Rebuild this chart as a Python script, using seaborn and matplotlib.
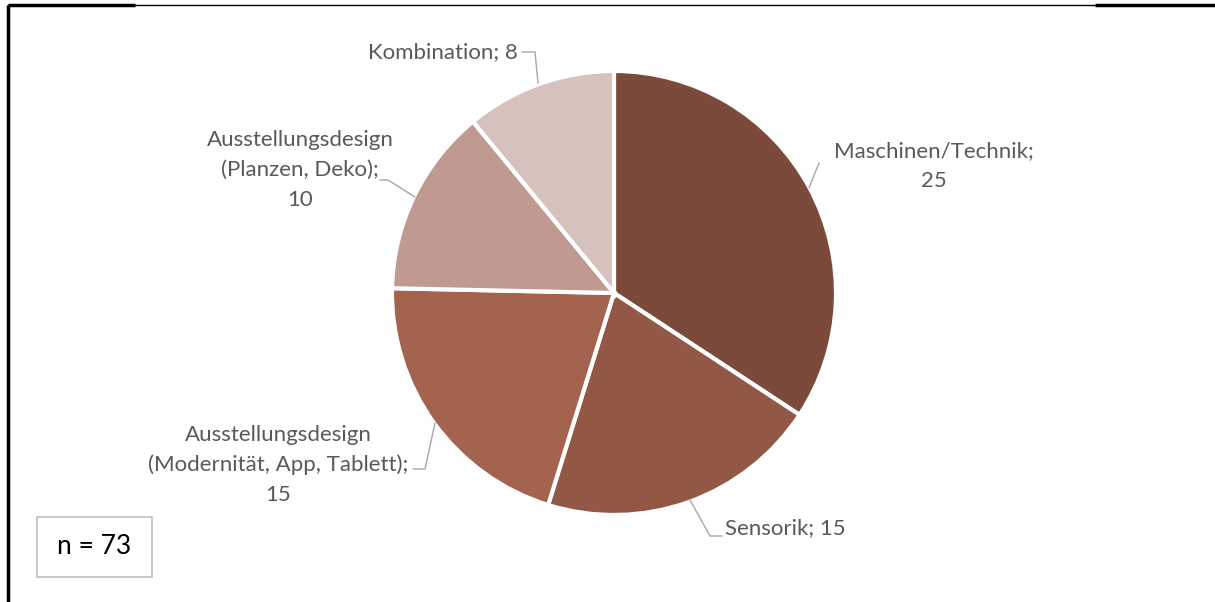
import matplotlib
matplotlib.use('Agg')
import matplotlib.pyplot as plt
import seaborn as sns
from matplotlib.patches import Rectangle

# ---- Daten
kategorien = ['Maschinen/Technik', 'Sensorik',
              'Ausstellungsdesign\n(Modernität, App, Tablett)',
              'Ausstellungsdesign\n(Planzen, Deko)', 'Kombination']
werte = [25, 15, 15, 10, 8]
farben = ['#7B4A3A', '#935845', '#A3634E', '#C09A91', '#D7C1BC']
n_text = 'n = 73'

sns.set_theme(style='white')
plt.rcParams['font.family'] = ['Lato', 'DejaVu Sans']

W, H = 1215, 602
fig = plt.figure(figsize=(W / 100, H / 100), dpi=100)
ax = fig.add_axes([0, 0, 1, 1])


def py(y):
    # Pixel-y (von oben) in Datenkoordinate
    return H - y


cx, cy, r = 614, py(293), 222
ax.pie(werte, colors=farben, startangle=90, counterclock=False,
       center=(cx, cy), radius=r,
       wedgeprops=dict(edgecolor='white', linewidth=3))
ax.set_xlim(0, W)
ax.set_ylim(0, H)
ax.set_aspect('equal')
ax.axis('off')

# ---- Beschriftungen
txt = dict(color='#595959', fontsize=16, va='center', linespacing=1.6)
beschriftung = [
    (f'{kategorien[0]};\n{werte[0]}', 934, 166, 'center'),
    (f'{kategorien[1]}; {werte[1]}', 725, 528, 'left'),
    (f'{kategorien[2]};\n{werte[2]}', 278, 465, 'center'),
    (f'{kategorien[3]};\n{werte[3]}', 300, 170, 'center'),
    (f'{kategorien[4]}; {werte[4]}', 518, 52, 'right'),
]
for s, x, y, ha in beschriftung:
    ax.text(x, py(y), s, ha=ha, multialignment='center', **txt)

# Führungslinien
leader = dict(color='#A6A6A6', lw=1)
linien = [
    ([819, 809], [163, 188]),
    ([690, 710, 722], [500, 536, 536]),
    ([413, 425, 435], [469, 469, 423]),
    ([380, 388, 415], [180, 180, 197]),
    ([522, 535, 538], [52, 52, 83]),
]
for xs, ys in linien:
    ax.plot(xs, [py(v) for v in ys], **leader)

# n-Box
ax.add_patch(Rectangle((37, py(577)), 115, 60, facecolor='white',
                       edgecolor='#BFBFBF', lw=1.2))
ax.text(94, py(547), n_text, fontsize=19, color='black', ha='center', va='center')

# Rahmen
ax.plot([8, 8], [py(5), py(602)], color='black', lw=2.5, solid_capstyle='butt')
ax.plot([8, W], [py(4.5), py(4.5)], color='black', lw=1)
ax.plot([8, 135], [py(5), py(5)], color='black', lw=2.5, solid_capstyle='butt')
ax.plot([1095, W], [py(5), py(5)], color='black', lw=2.5, solid_capstyle='butt')

fig.savefig('out.png', dpi=100)
